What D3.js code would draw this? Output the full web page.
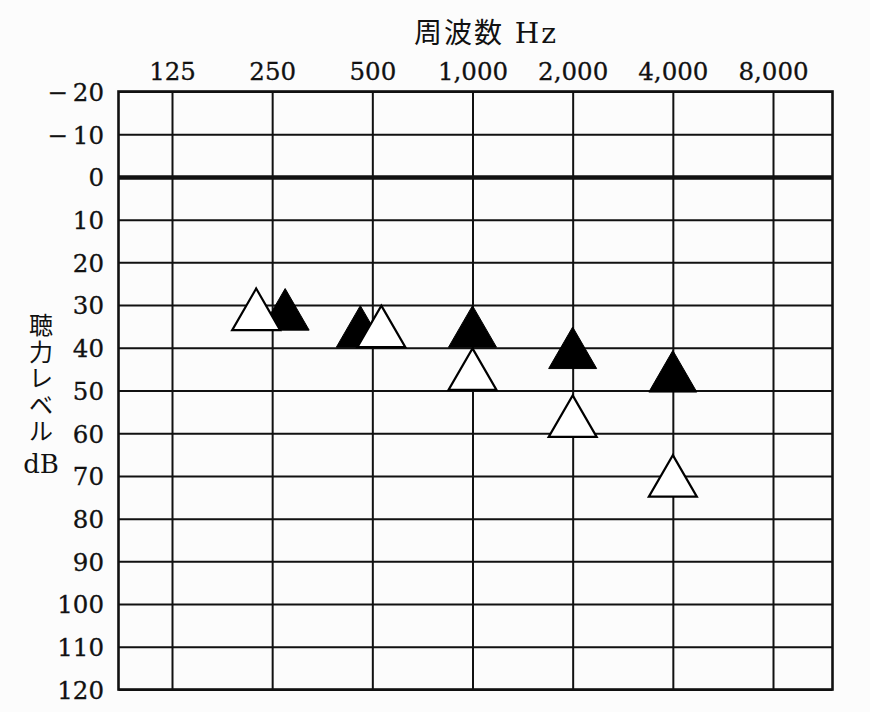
<!DOCTYPE html>
<html>
<head>
<meta charset="utf-8">
<script src="https://cdn.jsdelivr.net/npm/d3@7"></script>
<style>
  html, body { margin: 0; padding: 0; background: #fcfcfc; }
  svg { display: block; }
</style>
</head>
<body>
<svg id="chart" width="870" height="712"></svg>
<script>
// ---- data ----
const frequencies = [125, 250, 500, 1000, 2000, 4000, 8000];
const frequencyLabels = ["125", "250", "500", "1,000", "2,000", "4,000", "8,000"];
const dbTicks = [-20, -10, 0, 10, 20, 30, 40, 50, 60, 70, 80, 90, 100, 110, 120];
const markerFrequencies = [250, 500, 1000, 2000, 4000];
const filledValues = [31, 35, 35, 40, 45.5];   // ▲
const openValues = [31, 35, 45, 56, 70];       // △
const titleText = "周波数 Hz";
const yLabelChars = ["聴", "力", "レ", "ベ", "ル", "dB"];

(function () {
// ---- layout ----
const svg = d3.select("#chart");
svg.append("rect").attr("width", 870).attr("height", 712).attr("fill", "#fcfcfc");

const x = d3.scaleLog().base(2).domain([125, 8000]).range([172, 773]);
const y = d3.scaleLinear().domain([-20, 120]).range([91.5, 689.5]);
const plotLeft = 118.5, plotRight = 832.5, plotTop = y(-20), plotBottom = y(120);

const serif = "'DejaVu Serif', 'Liberation Serif', 'Noto Sans CJK JP', serif";

// horizontal grid via axis
const gy = svg.append("g")
  .attr("transform", `translate(${plotLeft},0)`)
  .call(d3.axisRight(y).tickValues(dbTicks).tickSize(plotRight - plotLeft).tickFormat(""));
gy.select(".domain").remove();
gy.selectAll(".tick line")
  .attr("stroke", "#111")
  .attr("stroke-width", d => d === 0 ? 4.5 : 2);

// vertical grid via axis
const gx = svg.append("g")
  .attr("transform", `translate(0,${plotTop})`)
  .call(d3.axisBottom(x).tickValues(frequencies).tickSize(plotBottom - plotTop).tickFormat(""));
gx.select(".domain").remove();
gx.selectAll(".tick line").attr("stroke", "#111").attr("stroke-width", 2);

// frame
svg.append("rect")
  .attr("x", plotLeft).attr("y", plotTop)
  .attr("width", plotRight - plotLeft).attr("height", plotBottom - plotTop)
  .attr("fill", "none").attr("stroke", "#111").attr("stroke-width", 2.6);

// x tick labels (top)
const ax = svg.append("g")
  .attr("transform", `translate(0,80)`)
  .call(d3.axisTop(x).tickValues(frequencies).tickSize(0).tickPadding(0)
    .tickFormat((d, i) => frequencyLabels[i]));
ax.select(".domain").remove();
ax.selectAll("text")
  .attr("font-family", serif).attr("font-size", 24.5).attr("fill", "#111")
  .attr("stroke", "#111").attr("stroke-width", 0.3)
  .attr("dy", 0);

// y tick labels (left)
const ay = svg.append("g")
  .attr("transform", `translate(104,0)`)
  .call(d3.axisLeft(y).tickValues(dbTicks).tickSize(0).tickPadding(0)
    .tickFormat(d => d < 0 ? "\u2212\u2009" + Math.abs(d) : String(d)));
ay.select(".domain").remove();
ay.selectAll("text")
  .attr("font-family", serif).attr("font-size", 24.5).attr("fill", "#111")
  .attr("stroke", "#111").attr("stroke-width", 0.3)
  .attr("dy", "0.36em");

// title
svg.append("text")
  .attr("x", 486).attr("y", 43)
  .attr("text-anchor", "middle")
  .attr("font-family", serif).attr("font-size", 28).attr("fill", "#111")
  .attr("letter-spacing", 2)
  .text(titleText);

// y-axis label, stacked vertically
svg.append("g").selectAll("text")
  .data(yLabelChars)
  .join("text")
  .attr("x", 41)
  .attr("y", (d, i) => d === "dB" ? 473 : 334 + i * 26.5)
  .attr("text-anchor", "middle")
  .attr("font-family", serif)
  .attr("font-size", (d) => d === "dB" ? 26 : 24)
  .attr("fill", "#111")
  .text(d => d);

// markers
const side = 48, h = side * Math.sqrt(3) / 2;
const tri = (cx, cy) => `M${cx},${cy - h / 2}L${cx + side / 2},${cy + h / 2}L${cx - side / 2},${cy + h / 2}Z`;
// horizontal nudges to separate overlapping symbols (pixels)
const filledNudge = [13, -12, 0, 0, 0];
const openNudge = [-16, 9, 0, 0, 0];

svg.append("g").selectAll("path")
  .data(markerFrequencies.map((f, i) => ({ f, v: filledValues[i], dx: filledNudge[i] })))
  .join("path")
  .attr("d", d => tri(x(d.f) + d.dx, y(d.v)))
  .attr("fill", "#000").attr("stroke", "#000").attr("stroke-width", 1);

svg.append("g").selectAll("path")
  .data(markerFrequencies.map((f, i) => ({ f, v: openValues[i], dx: openNudge[i] })))
  .join("path")
  .attr("d", d => tri(x(d.f) + d.dx, y(d.v)))
  .attr("fill", "#fff").attr("stroke", "#000").attr("stroke-width", 2.2)
  .attr("stroke-linejoin", "miter");
})();
</script>
</body>
</html>
